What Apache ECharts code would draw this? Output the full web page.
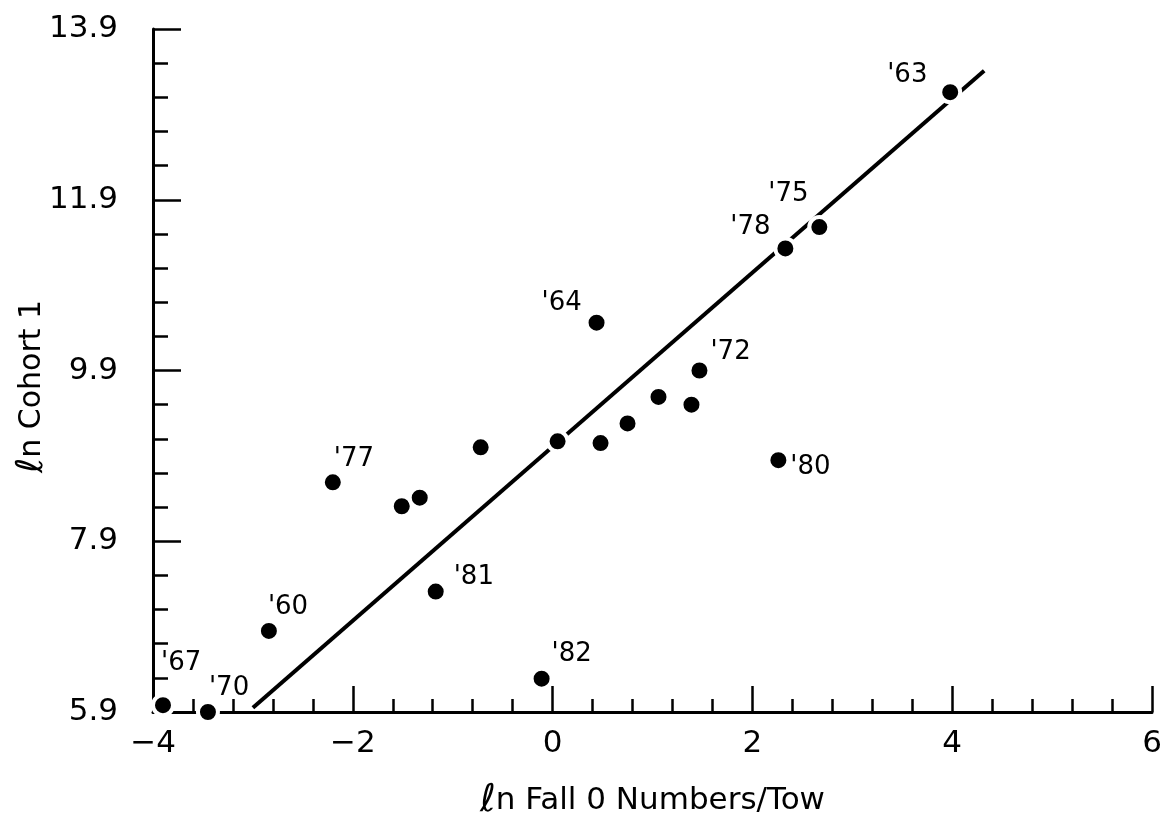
<!DOCTYPE html>
<html>
<head>
<meta charset="utf-8">
<script src="https://cdn.jsdelivr.net/npm/echarts@6/dist/echarts.min.js"></script>
<style>
html, body { margin: 0; background: #fff; }
#chart { width: 1167px; height: 827px; }
</style>
</head>
<body>
<div id="chart"></div>
<script>
// data
var fallX   = [-3.90, -3.45, -2.84, -2.20, -1.51, -1.33, -1.17, -0.72, -0.11, 0.05, 0.44, 0.48, 0.75, 1.06, 1.39, 1.47, 2.26, 2.33, 2.67, 3.98];
var cohortY = [ 5.98,  5.90,  6.85,  8.59,  8.31,  8.41,  7.31,  9.00,  6.29, 9.07, 10.46, 9.05, 9.28, 9.59, 9.50, 9.90, 8.85, 11.33, 11.58, 13.16];
var yearTags = ["'67", "'70", "'60", "'77", '', '', "'81", '', "'82", '', "'64", '', '', '', '', "'72", "'80", "'78", "'75", "'63"];
// fitted line end points
var fitX = [-3.0, 4.32];
var fitY = [5.95, 13.41];
// axis tick labels
var xTicks = [-4, -2, 0, 2, 4, 6];
var yTicks = [5.9, 7.9, 9.9, 11.9, 13.9];

// where each year tag sits relative to its dot (px, left/middle of text)
var tagOffset = {
    "'67": [0, -40], "'70": [3, -22], "'60": [1, -22], "'77": [3, -21],
    "'81": [20, -12], "'82": [12, -22], "'64": [-53, -17], "'72": [13, -16],
    "'80": [14, 9], "'78": [-53, -19], "'75": [-49, -31], "'63": [-61, -15]
};

var dotSize = 20;
var chart = echarts.init(document.getElementById('chart'));

var points = fallX.map(function (x, i) {
    var item = { value: [x, cohortY[i]] };
    var tag = yearTags[i];
    if (tag) {
        var off = tagOffset[tag];
        item.label = {
            show: true,
            formatter: tag,
            position: [off[0] + dotSize / 2, off[1] + dotSize / 2],
            align: 'left',
            verticalAlign: 'middle'
        };
    }
    return item;
});

var fitLine = fitX.map(function (x, i) { return [x, fitY[i]]; });

function minus(v) { return String(v).replace('-', '\u2212'); }

var font = 'DejaVu Sans';
var ink = '#000';

chart.setOption({
    animation: false,
    backgroundColor: '#fff',
    grid: { left: 153, right: 15, top: 29, bottom: 115, outerBoundsMode: 'none', containLabel: false },
    xAxis: {
        type: 'value',
        min: xTicks[0],
        max: xTicks[xTicks.length - 1],
        interval: xTicks[1] - xTicks[0],
        name: '{l|ℓ}n Fall 0 Numbers/Tow',
        nameLocation: 'middle',
        nameGap: 70,
        nameMoveOverlap: false,
        nameTextStyle: {
            color: ink, fontFamily: font, fontSize: 31,
            rich: { l: { fontSize: 38, fontStyle: 'italic', fontFamily: font, color: ink } }
        },
        axisLine: { onZero: false, lineStyle: { color: ink, width: 3 } },
        axisTick: { inside: true, length: 26, lineStyle: { color: ink, width: 2.5 } },
        minorTick: { show: true, splitNumber: 5, length: 13, lineStyle: { color: ink, width: 2.5 } },
        splitLine: { show: false },
        axisLabel: {
            color: ink, fontFamily: font, fontSize: 31, margin: 16,
            formatter: function (v) { return minus(v); }
        }
    },
    yAxis: {
        type: 'value',
        min: yTicks[0],
        max: yTicks[yTicks.length - 1],
        interval: yTicks[1] - yTicks[0],
        name: '{l|ℓ}n Cohort 1',
        nameLocation: 'middle',
        nameRotate: 90,
        nameGap: 102,
        nameMoveOverlap: false,
        nameTextStyle: {
            color: ink, fontFamily: font, fontSize: 30, padding: [0, 32, 0, 0],
            rich: { l: { fontSize: 37, fontStyle: 'italic', fontFamily: font, color: ink } }
        },
        axisLine: { show: true, onZero: false, lineStyle: { color: ink, width: 3 } },
        axisTick: { show: true, inside: true, length: 28, lineStyle: { color: ink, width: 2.5 } },
        minorTick: { show: true, splitNumber: 5, length: 15, lineStyle: { color: ink, width: 2.5 } },
        splitLine: { show: false },
        axisLabel: {
            color: ink, fontFamily: font, fontSize: 31, margin: 35,
            formatter: function (v) { return v.toFixed(1); }
        }
    },
    series: [
        {
            type: 'line',
            data: fitLine,
            symbol: 'none',
            lineStyle: { color: ink, width: 4 },
            z: 2
        },
        {
            type: 'scatter',
            data: points,
            symbolSize: dotSize,
            clip: false,
            itemStyle: { color: ink, borderColor: '#fff', borderWidth: 4, opacity: 1 },
            label: { color: ink, fontFamily: font, fontSize: 26 },
            emphasis: { disabled: true },
            z: 3
        }
    ]
});
</script>
</body>
</html>
